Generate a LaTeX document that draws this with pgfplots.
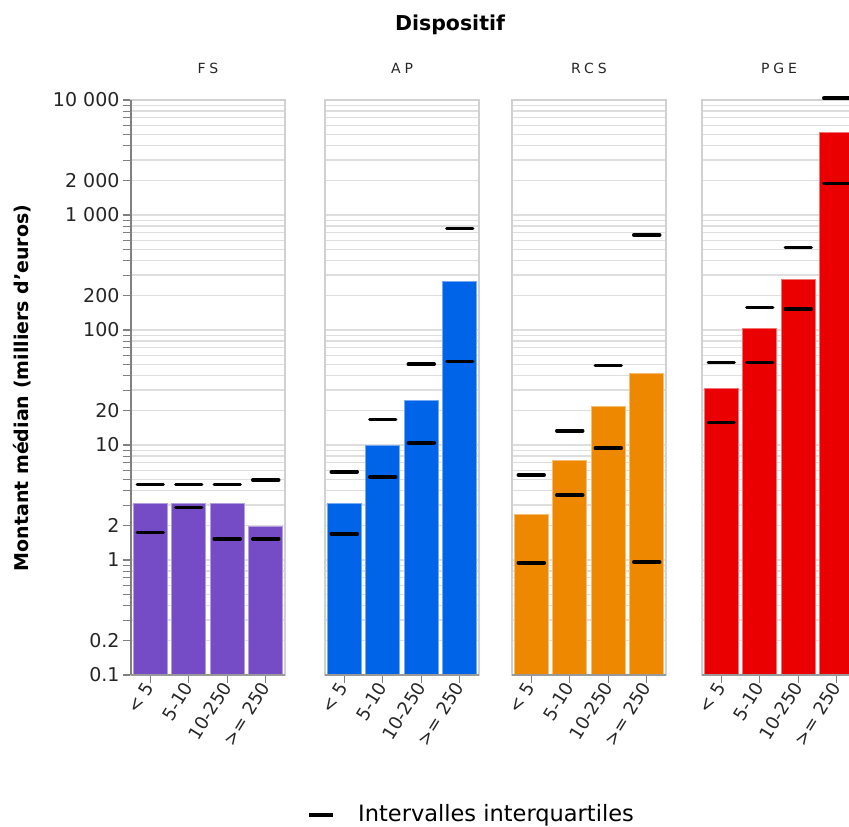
\documentclass[border=0pt]{standalone}
\usepackage{pgfplots}
\pgfplotsset{compat=1.18}
\usepackage{fontspec}
\setmainfont{DejaVu Sans}
\newfontfamily\spacedfont[LetterSpace=28]{DejaVu Sans}
\definecolor{cFS}{RGB}{117,76,197}
\definecolor{cAP}{RGB}{0,100,232}
\definecolor{cRCS}{RGB}{238,136,0}
\definecolor{cPGE}{RGB}{234,0,0}
\pgfplotsset{
 panel/.style={
   scale only axis, width=154pt, height=575pt, anchor=south west,
   ymin=0.1, ymax=10000,
   xmin=-0.5, xmax=3.5,
   xtick={0,1,2,3}, xticklabels={< 5, 5-10, 10-250, >= 250},
   xticklabel style={rotate=58, anchor=east, inner sep=1pt, font=\fontsize{18}{20}\selectfont, text=black!85},
   ytick={0.1,0.2,1,2,10,20,100,200,1000,2000,10000},
   minor ytick={0.3,0.4,0.5,0.6,0.7,0.8,0.9,3,4,5,6,7,8,9,30,40,50,60,70,80,90,300,400,500,600,700,800,900,3000,4000,5000,6000,7000,8000,9000},
   ymajorgrids, yminorgrids,
   major grid style={draw=black!13, line width=1.3pt},
   minor grid style={draw=black!13, line width=1.3pt},
   axis line style={draw=black!18, line width=1.5pt},
   tick align=outside,
   xtick pos=bottom,
   ytick pos=left,
   every x tick/.style={draw=black!50, line width=1.2pt},
   major tick length=8pt, minor tick length=8pt,
   clip=false,
 },
 bars/.style={ybar, bar width=34pt, fill=#1, draw=#1!55!white, line width=0.8pt},
 iq/.style={only marks, mark=-, mark size=13pt, mark options={line width=3.5pt, line cap=round, draw=black}},
}
\begin{document}
\begin{tikzpicture}
\path[use as bounding box] (0,0) rectangle (849pt,827pt);
% FS
\begin{axis}[ymode=log, log origin y=infty, panel, at={(131pt,152pt)},
   yticklabels={0.1,0.2,1,2,10,20,100,200,1 000,2 000,10 000},
   yticklabel style={font=\fontsize{19}{21}\selectfont, text=black!85},
   every y tick/.style={draw=black!50, line width=1.2pt}]
 \addplot[bars=cFS] coordinates {(0,3.1) (1,3.1) (2,3.1) (3,1.95)};
 \addplot[iq] coordinates {(0,1.73) (1,2.87) (2,1.53) (3,1.53)};
 \addplot[iq] coordinates {(0,4.55) (1,4.55) (2,4.55) (3,4.96)};
 \draw[black!50, line width=1.8pt] (rel axis cs:0,0) -- (rel axis cs:0,1);
 \draw[black!40, line width=1.5pt] (rel axis cs:0,0) -- (rel axis cs:1,0);
\end{axis}
% AP
\begin{axis}[ymode=log, log origin y=infty, panel, at={(325pt,152pt)},
   yticklabels={}, every y tick/.style={draw=none}]
 \addplot[bars=cAP] coordinates {(0,3.13) (1,9.84) (2,24.5) (3,265)};
 \addplot[iq] coordinates {(0,1.69) (1,5.27) (2,10.4) (3,53)};
 \addplot[iq] coordinates {(0,5.83) (1,16.7) (2,50.4) (3,763)};
 \draw[black!40, line width=1.5pt] (rel axis cs:0,0) -- (rel axis cs:1,0);
\end{axis}
% RCS
\begin{axis}[ymode=log, log origin y=infty, panel, at={(512pt,152pt)},
   yticklabels={}, every y tick/.style={draw=none}]
 \addplot[bars=cRCS] coordinates {(0,2.49) (1,7.28) (2,21.8) (3,41.6)};
 \addplot[iq] coordinates {(0,0.946) (1,3.67) (2,9.38) (3,0.96)};
 \addplot[iq] coordinates {(0,5.48) (1,13.3) (2,49.3) (3,670)};
 \draw[black!40, line width=1.5pt] (rel axis cs:0,0) -- (rel axis cs:1,0);
\end{axis}
% PGE
\begin{axis}[ymode=log, log origin y=infty, panel, at={(702pt,152pt)},
   yticklabels={}, every y tick/.style={draw=none}]
 \addplot[bars=cPGE] coordinates {(0,31.3) (1,103.7) (2,277) (3,5200)};
 \addplot[iq] coordinates {(0,15.7) (1,52) (2,152) (3,1875)};
 \addplot[iq] coordinates {(0,52) (1,157) (2,523) (3,10370)};
 \draw[black!40, line width=1.5pt] (rel axis cs:0,0) -- (rel axis cs:1,0);
\end{axis}
% titles
\node[font=\fontsize{20.5}{24}\selectfont\bfseries] at (450pt,802pt) {Dispositif};
\node[font=\fontsize{14}{16}\selectfont\spacedfont, text=black!85] at (208pt,759pt) {FS};
\node[font=\fontsize{14}{16}\selectfont\spacedfont, text=black!85] at (402pt,759pt) {AP};
\node[font=\fontsize{14}{16}\selectfont\spacedfont, text=black!85] at (589pt,759pt) {RCS};
\node[font=\fontsize{14}{16}\selectfont\spacedfont, text=black!85] at (779pt,759pt) {PGE};
\node[rotate=90, font=\fontsize{19}{22}\selectfont\bfseries] at (22pt,439pt) {Montant médian (milliers d'euros)};
% legend
\draw[black, line width=3.5pt] (309pt,12pt) -- (333pt,12pt);
\node[anchor=west, font=\fontsize{22.5}{26}\selectfont, inner sep=0pt] at (358pt,12pt) {Intervalles interquartiles};
\end{tikzpicture}
\end{document}
